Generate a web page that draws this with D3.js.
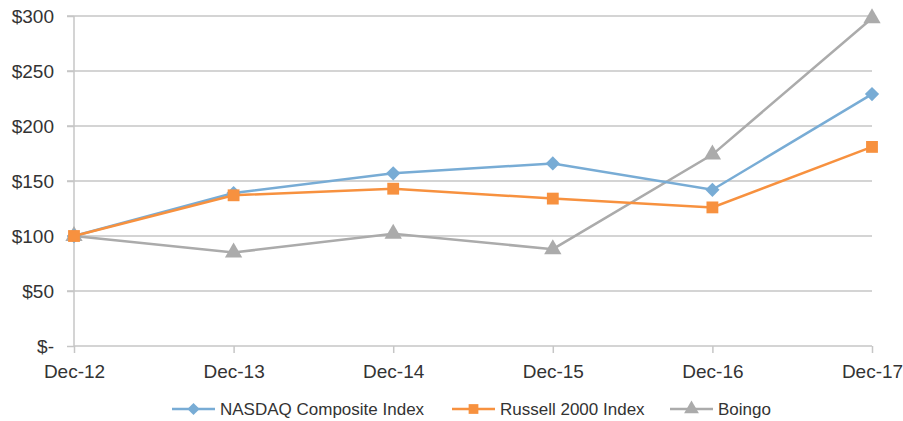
<!DOCTYPE html>
<html>
<head>
<meta charset="utf-8">
<script src="https://cdn.jsdelivr.net/npm/d3@7"></script>
<style>
  body { margin: 0; background: #fff; }
  svg text { font-family: "Liberation Sans", Arial, sans-serif; fill: #333; }
</style>
</head>
<body>
<div id="chart"></div>
<script>
const years = ["Dec-12", "Dec-13", "Dec-14", "Dec-15", "Dec-16", "Dec-17"];
const nasdaq = [100, 139, 157, 166, 142, 229];
const russell = [100, 137, 143, 134, 126, 181];
const boingo = [100, 85, 102, 88, 174, 298];
const yTicks = [0, 50, 100, 150, 200, 250, 300];

const series = [
  { name: "NASDAQ Composite Index", values: nasdaq, color: "#78acd5", shape: "diamond" },
  { name: "Russell 2000 Index", values: russell, color: "#f7913f", shape: "square" },
  { name: "Boingo", values: boingo, color: "#ababab", shape: "triangle" }
];

const width = 903, height = 421;
const svg = d3.select("#chart").append("svg")
  .attr("width", width)
  .attr("height", height);

const x = d3.scalePoint().domain(years).range([74, 872]);
const y = d3.scaleLinear().domain([0, 300]).range([346, 16]);

// gridlines
svg.append("g")
  .selectAll("line")
  .data(yTicks.filter(d => d > 0))
  .enter()
  .append("line")
  .attr("x1", 67)
  .attr("x2", 872)
  .attr("y1", d => y(d))
  .attr("y2", d => y(d))
  .attr("stroke", "#c6c6c6")
  .attr("stroke-width", 1.5);

// y axis
const yAxis = svg.append("g")
  .attr("transform", "translate(74,0)")
  .call(d3.axisLeft(y).tickValues(yTicks).tickSize(7).tickPadding(13)
    .tickFormat(d => d === 0 ? "$-" : "$" + d));
yAxis.selectAll("line").attr("stroke", "#c6c6c6").attr("stroke-width", 1.5);
yAxis.select(".domain").attr("stroke", "#c6c6c6").attr("stroke-width", 1.5).attr("d", "M0,16V346");
yAxis.selectAll("text").style("font-size", "19px").attr("fill", "#333");

// x axis
const xAxis = svg.append("g")
  .attr("transform", "translate(0,346)")
  .call(d3.axisBottom(x).tickSize(7).tickPadding(12));
xAxis.selectAll("line").attr("stroke", "#c6c6c6").attr("stroke-width", 1.5);
xAxis.select(".domain").attr("stroke", "#c6c6c6").attr("stroke-width", 1.5).attr("d", "M74,0H872");
xAxis.selectAll("text").style("font-size", "19px").attr("fill", "#333");

const shapeType = {
  diamond: d3.symbolDiamond2,
  square: d3.symbolSquare,
  triangle: d3.symbolTriangle
};

const line = d3.line()
  .x((d, i) => x(years[i]))
  .y(d => y(d));

// draw grey first so others lie above like the original
const order = [series[2], series[0], series[1]];
for (const s of order) {
  svg.append("path")
    .datum(s.values)
    .attr("fill", "none")
    .attr("stroke", s.color)
    .attr("stroke-width", 2.5)
    .attr("d", line);

  svg.append("g")
    .selectAll("path")
    .data(s.values)
    .enter()
    .append("path")
    .attr("transform", (d, i) => `translate(${x(years[i])},${y(d)})`)
    .attr("d", d3.symbol().type(shapeType[s.shape]).size(s.shape === "square" ? 140 : 130)())
    .attr("fill", s.color);
}

// legend
const legendX = [172, 452, 670];
const legend = svg.append("g").attr("transform", "translate(0,409)");
series.forEach((s, i) => {
  const g = legend.append("g").attr("transform", `translate(${legendX[i]},0)`);
  g.append("line")
    .attr("x1", 0).attr("x2", 43)
    .attr("stroke", s.color).attr("stroke-width", 2.5);
  g.append("path")
    .attr("transform", "translate(21.5,0)")
    .attr("d", d3.symbol().type(shapeType[s.shape]).size(95)())
    .attr("fill", s.color);
  g.append("text")
    .attr("x", 48)
    .attr("dy", "0.35em")
    .style("font-size", "17px")
    .text(s.name);
});
</script>
</body>
</html>
